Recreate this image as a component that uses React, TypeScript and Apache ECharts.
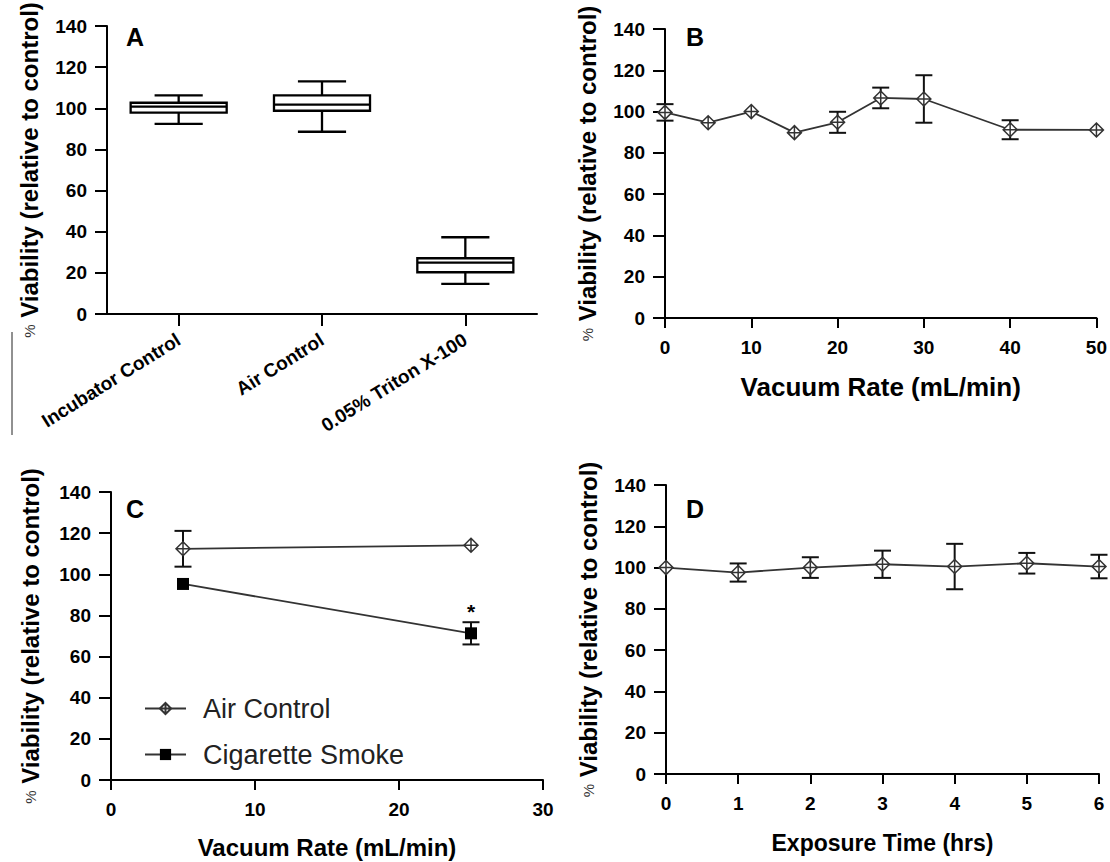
import React, { useEffect, useRef } from 'react';
import * as echarts from 'echarts';

// Panel A: box plot values
const boxCategories = ['Incubator Control', 'Air Control', '0.05% Triton X-100'];
const boxMin = [92.4, 88.6, 14.6];
const boxQ1 = [97.9, 98.8, 20.3];
const boxMedian = [100.8, 101.8, 25.0];
const boxQ3 = [102.7, 106.3, 27.1];
const boxMax = [106.3, 113.1, 37.3];

// Panel B: vacuum rate
const bX = [0, 5, 10, 15, 20, 25, 30, 40, 50];
const bMean = [99.6, 94.6, 100.0, 89.8, 94.8, 106.6, 106.1, 91.2, 91.1];
const bErr = [4.0, 0, 0, 0, 5.1, 5.0, 11.5, 4.6, 0];

// Panel C: air control vs cigarette smoke
const cX = [5, 25];
const cAirMean = [112.4, 114.1];
const cAirErr = [8.7, 0];
const cSmokeMean = [95.3, 71.3];
const cSmokeErr = [0, 5.4];
const cSmokeSig = ['', '*'];

// Panel D: exposure time
const dX = [0, 1, 2, 3, 4, 5, 6];
const dMean = [100.0, 97.6, 100.0, 101.6, 100.5, 102.1, 100.5];
const dErr = [0, 4.4, 5.0, 6.6, 11.0, 5.0, 5.7];

const FONT = '"Liberation Sans", Arial, Helvetica, sans-serif';
const DIAMOND = 'path://M10,0 L20,10 L10,20 L0,10 Z M10,0 L10,20 M0,10 L20,10';

const tickLabelStyle = { color: '#000', fontSize: 19, fontWeight: 'bold' as const, fontFamily: FONT };
const axisLine = { show: true, onZero: false, lineStyle: { color: '#000', width: 2 } };
const letterStyle = { fontSize: 25, fontWeight: 'bold' as const, color: '#000', fontFamily: FONT };

function yAxis(gridIndex: number, nameGap: number) {
  return {
    type: 'value',
    gridIndex,
    min: 0,
    max: 140,
    interval: 20,
    axisLine,
    axisTick: { show: true, length: 12, lineStyle: { color: '#000', width: 2 } },
    axisLabel: { ...tickLabelStyle, margin: 20 },
    splitLine: { show: false },
    name: '{p|%} Viability (relative to control)',
    nameLocation: 'middle',
    nameRotate: 90,
    nameGap,
    nameTextStyle: {
      fontSize: 24,
      fontWeight: 'bold',
      color: '#000',
      fontFamily: FONT,
      rich: { p: { fontSize: 15, fontWeight: 'normal', color: '#333', fontFamily: FONT } },
    },
  };
}

function xValueAxis(gridIndex: number, min: number, max: number, interval: number, name: string, nameSize: number, nameGap: number) {
  return {
    type: 'value',
    gridIndex,
    min,
    max,
    interval,
    axisLine,
    axisTick: { show: true, length: 10, lineStyle: { color: '#000', width: 2 } },
    axisLabel: { ...tickLabelStyle, margin: 20 },
    splitLine: { show: false },
    name,
    nameLocation: 'middle',
    nameGap,
    nameTextStyle: { fontSize: nameSize, fontWeight: 'bold', color: '#000', fontFamily: FONT },
  };
}

function errorSeries(idx: number, xs: number[], means: number[], errs: number[]) {
  return {
    type: 'custom',
    xAxisIndex: idx,
    yAxisIndex: idx,
    silent: true,
    z: 1,
    encode: { x: 0, y: [1, 2] },
    data: xs.map((x, i) => [x, means[i] - errs[i], means[i] + errs[i]]),
    renderItem: (params: any, api: any) => {
      const lo = api.value(1);
      const hi = api.value(2);
      if (hi - lo <= 0) return { type: 'group', children: [] };
      const x = api.value(0);
      const pLo = api.coord([x, lo]);
      const pHi = api.coord([x, hi]);
      const hw = 8.5;
      const st = { stroke: '#111', lineWidth: 2 };
      return {
        type: 'group',
        children: [
          { type: 'line', shape: { x1: pLo[0], y1: pLo[1], x2: pHi[0], y2: pHi[1] }, style: st },
          { type: 'line', shape: { x1: pLo[0] - hw, y1: pLo[1], x2: pLo[0] + hw, y2: pLo[1] }, style: st },
          { type: 'line', shape: { x1: pHi[0] - hw, y1: pHi[1], x2: pHi[0] + hw, y2: pHi[1] }, style: st },
        ],
      };
    },
  };
}

function diamondLine(idx: number, name: string, xs: number[], means: number[]) {
  return {
    type: 'line',
    name,
    xAxisIndex: idx,
    yAxisIndex: idx,
    z: 3,
    symbol: DIAMOND,
    symbolSize: 14,
    showAllSymbol: true,
    itemStyle: { color: '#fff', borderColor: '#333', borderWidth: 1.5 },
    lineStyle: { color: '#333', width: 1.8 },
    data: xs.map((x, i) => [x, means[i]]),
  };
}

export default function App() {
  const ref = useRef<HTMLDivElement>(null);

  useEffect(() => {
    if (!ref.current) return;
    const chart = echarts.init(ref.current, null, { renderer: 'svg' });

    const option: any = {
      animation: false,
      backgroundColor: '#fff',
      textStyle: { fontFamily: FONT },
      title: [
        { text: 'A', left: 121, top: 19, textStyle: letterStyle },
        { text: 'B', left: 681, top: 19, textStyle: letterStyle },
        { text: 'C', left: 121, top: 491, textStyle: letterStyle },
        { text: 'D', left: 681, top: 491, textStyle: letterStyle },
      ],
      legend: {
        data: ['Air Control', 'Cigarette Smoke'],
        orient: 'vertical',
        left: 139,
        top: 690,
        itemWidth: 41,
        itemHeight: 14,
        itemGap: 19,
        selectedMode: false,
        textStyle: { fontSize: 27, color: '#222', fontFamily: FONT, padding: [0, 0, 0, 12] },
      },
      grid: [
        { left: 107, top: 26, width: 430, height: 288 },
        { left: 665, top: 29, width: 433, height: 289 },
        { left: 111, top: 492, width: 432, height: 288 },
        { left: 666, top: 485, width: 433, height: 289 },
      ],
      xAxis: [
        {
          type: 'category',
          gridIndex: 0,
          data: boxCategories,
          boundaryGap: true,
          axisLine,
          axisTick: { show: true, alignWithLabel: true, length: 12, lineStyle: { color: '#000', width: 2 } },
          axisLabel: { ...tickLabelStyle, fontSize: 19, rotate: 32, interval: 0, margin: 24 },
          splitLine: { show: false },
        },
        xValueAxis(1, 0, 50, 10, 'Vacuum Rate (mL/min)', 26, 56),
        xValueAxis(2, 0, 30, 10, 'Vacuum Rate (mL/min)', 24, 55),
        xValueAxis(3, 0, 6, 1, 'Exposure Time (hrs)', 23, 57),
      ],
      yAxis: [yAxis(0, 66), yAxis(1, 66), yAxis(2, 69), yAxis(3, 66)],
      graphic: [
        { type: 'line', shape: { x1: 12, y1: 332, x2: 12, y2: 435 }, style: { stroke: '#222', lineWidth: 1 } },
      ],
      series: [
        {
          type: 'custom',
          name: 'box',
          xAxisIndex: 0,
          yAxisIndex: 0,
          silent: true,
          encode: { x: 0, y: [1, 2, 3, 4, 5] },
          data: boxCategories.map((c, i) => [i, boxMin[i], boxQ1[i], boxMedian[i], boxQ3[i], boxMax[i]]),
          renderItem: (params: any, api: any) => {
            const i = api.value(0);
            const band = api.size([1, 0])[0];
            const halfBox = band * 0.335;
            const halfCap = band * 0.168;
            const pMin = api.coord([i, api.value(1)]);
            const pQ1 = api.coord([i, api.value(2)]);
            const pMed = api.coord([i, api.value(3)]);
            const pQ3 = api.coord([i, api.value(4)]);
            const pMax = api.coord([i, api.value(5)]);
            const cx = pMin[0];
            const st = { stroke: '#000', lineWidth: 2.3 };
            return {
              type: 'group',
              children: [
                { type: 'line', shape: { x1: cx, y1: pMin[1], x2: cx, y2: pQ1[1] }, style: st },
                { type: 'line', shape: { x1: cx, y1: pQ3[1], x2: cx, y2: pMax[1] }, style: st },
                { type: 'line', shape: { x1: cx - halfCap, y1: pMin[1], x2: cx + halfCap, y2: pMin[1] }, style: st },
                { type: 'line', shape: { x1: cx - halfCap, y1: pMax[1], x2: cx + halfCap, y2: pMax[1] }, style: st },
                {
                  type: 'rect',
                  shape: { x: cx - halfBox, y: pQ3[1], width: halfBox * 2, height: pQ1[1] - pQ3[1] },
                  style: { fill: '#fff', stroke: '#000', lineWidth: 2.3 },
                },
                { type: 'line', shape: { x1: cx - halfBox, y1: pMed[1], x2: cx + halfBox, y2: pMed[1] }, style: st },
              ],
            };
          },
        },
        errorSeries(1, bX, bMean, bErr),
        diamondLine(1, 'B series', bX, bMean),
        errorSeries(2, cX, cAirMean, cAirErr),
        errorSeries(2, cX, cSmokeMean, cSmokeErr),
        diamondLine(2, 'Air Control', cX, cAirMean),
        {
          type: 'line',
          name: 'Cigarette Smoke',
          xAxisIndex: 2,
          yAxisIndex: 2,
          z: 3,
          symbol: 'rect',
          symbolSize: 12,
          itemStyle: { color: '#000', borderColor: '#000', borderWidth: 0 },
          lineStyle: { color: '#333', width: 1.8 },
          data: cX.map((x, i) => ({
            value: [x, cSmokeMean[i]],
            label: {
              show: cSmokeSig[i] !== '',
              formatter: cSmokeSig[i],
              position: 'top',
              distance: 5,
              fontSize: 21,
              fontWeight: 'bold',
              color: '#000',
              fontFamily: FONT,
            },
          })),
        },
        errorSeries(3, dX, dMean, dErr),
        diamondLine(3, 'D series', dX, dMean),
      ],
    };

    chart.setOption(option);
    return () => chart.dispose();
  }, []);

  return (
    <div
      ref={ref}
      style={{ position: 'absolute', left: 0, top: 0, width: 1110, height: 862, background: '#fff' }}
    />
  );
}
